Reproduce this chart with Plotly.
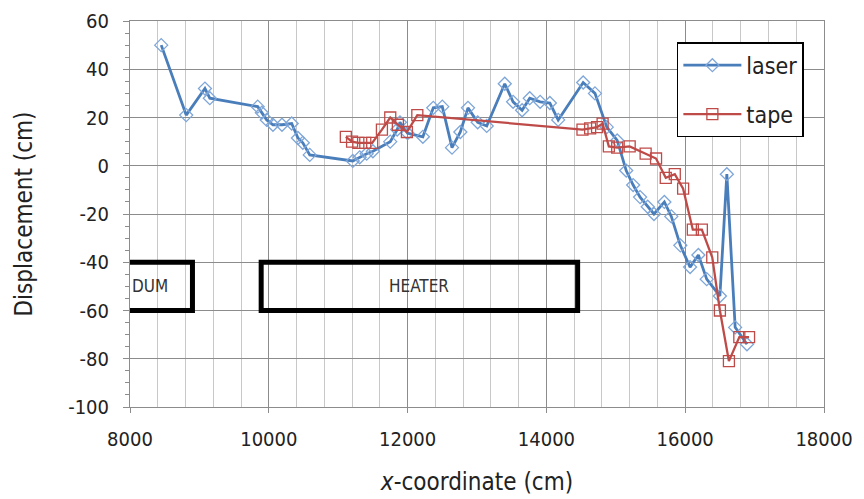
import plotly.graph_objects as go

laser_x = [8450, 8810, 9080, 9150, 9840, 9900, 9970, 10060, 10190, 10330, 10420, 10490, 10590,
           11210, 11310, 11410, 11500, 11750, 11850, 11890, 12000, 12220, 12370, 12500, 12640,
           12760, 12870, 13010, 13140, 13400, 13520, 13650, 13760, 13910, 14050, 14170, 14530,
           14700, 14870, 15020, 15150, 15250, 15350, 15460, 15550, 15700, 15800, 15930, 16070,
           16190, 16310, 16500, 16600, 16720, 16890]
laser_y = [50, 21, 32, 28, 24.5, 22, 19, 17, 17, 17.5, 11.5, 9.5, 4.5,
           2, 3.5, 5, 6, 10, 15, 18, 13.5, 12, 24, 24.5, 7.5,
           14, 24, 18, 16.5, 34, 26.5, 23, 28, 26.5, 26, 19, 34.5,
           30, 16, 10.5, -2, -8, -13, -17, -20, -15, -21, -33, -42,
           -37, -47, -54, -3.5, -67, -74]

tape_x = [11110, 11200, 11290, 11390, 11490, 11630, 11750, 11860, 11990, 12140,
          14520, 14630, 14730, 14810, 14900, 15020, 15200, 15430, 15580, 15720,
          15850, 15970, 16110, 16240, 16390, 16500, 16630, 16780, 16920]
tape_y = [12, 10, 9.5, 9.5, 9.5, 15, 20, 17, 14, 21,
          15, 15.5, 16, 17.5, 8, 7.5, 8, 5, 3, -5,
          -3.5, -9.5, -26.5, -26.5, -38, -60, -81, -71, -71]

x_ticks = [8000, 10000, 12000, 14000, 16000, 18000]
x_ticklabels = ["8000", "10000", "12000", "14000", "16000", "18000"]
y_ticks = [-100, -80, -60, -40, -20, 0, 20, 40, 60]
y_ticklabels = ["-100", "-80", "-60", "-40", "-20", "0", "20", "40", "60"]

boxes = [("DUM", 7700, 8900), ("HEATER", 9890, 14450)]
box_y = (-60, -40)

blue = "#4A7EBB"
red = "#BE4B48"
font_main = "DejaVu Sans Condensed, Liberation Sans Narrow, sans-serif"

fig = go.Figure()
fig.add_trace(go.Scatter(
    x=laser_x, y=laser_y, mode="lines+markers", name="laser", legendgroup="a",
    line=dict(color=blue, width=2.8),
    marker=dict(symbol="diamond-open", size=10, color="#7EA6D8", line=dict(width=1.3)),
))
fig.add_trace(go.Scatter(
    x=tape_x, y=tape_y, mode="lines+markers", name="tape", legendgroup="b",
    line=dict(color=red, width=2.3),
    marker=dict(symbol="square-open", size=11, color=red, line=dict(width=1.3)),
))

for label, x0, x1 in boxes:
    fig.add_shape(type="rect", xref="x", yref="y", x0=x0, x1=x1, y0=box_y[0], y1=box_y[1],
                  line=dict(color="black", width=5), layer="above")
    fig.add_annotation(x=(x0 + x1) / 2 if label == "HEATER" else 8000,
                       y=sum(box_y) / 2, text=label, showarrow=False,
                       xanchor="center" if label == "HEATER" else "left",
                       font=dict(family=font_main, size=17, color="#333333"))

fig.update_layout(
    width=856, height=491,
    margin=dict(l=122, r=40, t=13, b=92),
    paper_bgcolor="white", plot_bgcolor="white",
    font=dict(family=font_main, size=20, color="#222222"),
    showlegend=True,
    legend=dict(x=0.788, y=0.945, xanchor="left", yanchor="top",
                bordercolor="black", borderwidth=1.5, bgcolor="white",
                font=dict(size=23), itemwidth=58, traceorder="grouped", tracegroupgap=16),
    xaxis=dict(range=[8000, 18000], tickvals=x_ticks, ticktext=x_ticklabels, showgrid=True,
               gridcolor="#8C8C8C", gridwidth=1, automargin=False, ticklabelstandoff=9,
               minor=dict(dtick=400, tick0=8000, showgrid=True, gridcolor="#C8C8C8", gridwidth=1),
               showline=True, linecolor="#8C8C8C", mirror=True, ticks="outside",
               ticklen=5, tickcolor="#8C8C8C", zeroline=False,
               title=dict(text="<i>x</i>-coordinate (cm)", standoff=23)),
    yaxis=dict(range=[-100, 60], tickvals=y_ticks, ticktext=y_ticklabels, showgrid=True,
               gridcolor="#8C8C8C", gridwidth=1, automargin=False, ticklabelstandoff=10,
               minor=dict(dtick=5, tick0=0, ticks="outside", ticklen=4, tickcolor="#8C8C8C", showgrid=False),
               showline=True, linecolor="#8C8C8C", mirror=True, ticks="outside",
               ticklen=6, tickcolor="#8C8C8C", zeroline=False,
               title=dict(text="Displacement (cm)", standoff=28)),
)

fig.write_html("out.html")
